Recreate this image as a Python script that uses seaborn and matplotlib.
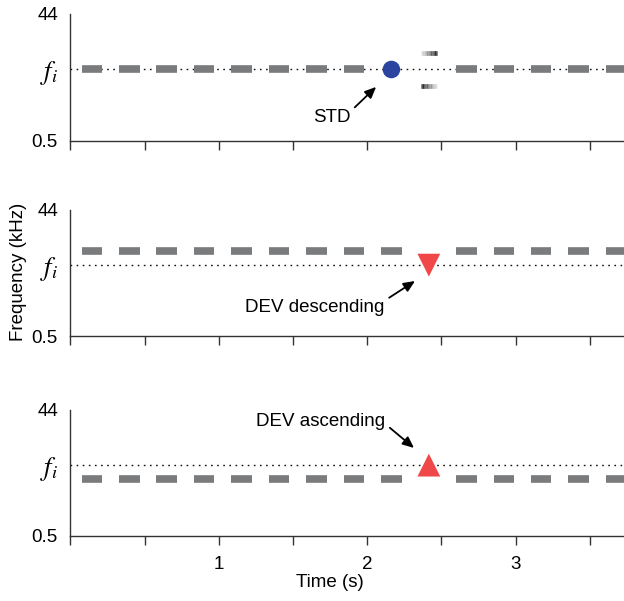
import numpy as np
import pandas as pd
import matplotlib
matplotlib.use("Agg")
import matplotlib.pyplot as plt
import seaborn as sns

# параметры стимулов (частоты в кГц, время в секундах)
f_i = 6.2
f_high = 10.3
f_low = 3.8
onset0 = 0.0755
period = 0.2523
tone_dur = 0.138
n_tones = 15
std_idx = 8
dev_idx = 9

# по одной записи на панель: STD, DEV descending, DEV ascending
tone_freq = [f_i, f_high, f_low]
skip_idx = [[std_idx, dev_idx], [dev_idx], [dev_idx]]
marker_idx = [std_idx, dev_idx, dev_idx]
marker_shape = ['o', 'v', '^']
marker_color = ['#2b44a0', '#f04848', '#f04848']
marker_size = [160, 270, 270]
labels = ['STD', 'DEV descending', 'DEV ascending']
arrow_tip = [(2.06, 3.36), (2.322, 3.53), (2.315, 11.4)]
text_offset = [(-32, -22), (-72, -19), (-67, 19)]
text_relpos = [(1.0, 0.85), (1.0, 0.9), (1.0, 0.35)]

# бледные тоны над и под паузой в панели STD
ghost_freq = [11.1, 3.5]
ghost_dir = [1, -1]  # 1 = темнеет вправо, -1 = темнеет влево

x_ticks = [0, 0.5, 1, 1.5, 2, 2.5, 3, 3.5]
x_ticklabels = ['', '', '1', '', '2', '', '3', '']
y_ticks = [0.5, f_i, 44]
y_ticklabels = ['0.5', '$f_i$', '44']

sns.set_style('ticks')
plt.rcParams['font.family'] = ['Liberation Sans', 'DejaVu Sans']
plt.rcParams['mathtext.fontset'] = 'stix'
plt.rcParams['text.color'] = 'black'
plt.rcParams['xtick.labelcolor'] = 'black'
plt.rcParams['ytick.labelcolor'] = 'black'

fig = plt.figure(figsize=(6.24, 6.01), dpi=100)
rects = [[0.1128, 0.7654, 0.8872, 0.2116],
         [0.1128, 0.4409, 0.8872, 0.2097],
         [0.1128, 0.1082, 0.8872, 0.2097]]

onsets = onset0 + period * np.arange(n_tones)

for p in range(3):
    ax = fig.add_axes(rects[p])
    ax.set_yscale('log')

    # опорная частота f_i
    ax.axhline(f_i, color='#111111', lw=1.0, ls=(0, (1.2, 3.2)), zorder=1)

    # тоны серии
    keep = [k for k in range(n_tones) if k not in skip_idx[p]]
    ax.hlines([tone_freq[p]] * len(keep), onsets[keep], onsets[keep] + tone_dur,
              color='#7a7b7d', lw=5.5, zorder=2)

    # стимул STD / DEV
    df = pd.DataFrame({'t': [onsets[marker_idx[p]] + tone_dur / 2], 'f': [f_i]})
    sns.scatterplot(data=df, x='t', y='f', marker=marker_shape[p],
                    color=marker_color[p], s=marker_size[p],
                    edgecolor='none', ax=ax, zorder=3, legend=False)

    if p == 0:
        g0 = onsets[dev_idx] + 0.015
        g1 = onsets[dev_idx] + tone_dur - 0.015
        edges = np.linspace(g0, g1, 13)
        for gf, gd in zip(ghost_freq, ghost_dir):
            shades = np.linspace(0.88, 0.1, 12)
            if gd < 0:
                shades = shades[::-1]
            for j in range(12):
                ax.hlines(gf, edges[j], edges[j + 1], color=str(shades[j]),
                          lw=3.4, zorder=2)

    ax.annotate(labels[p], xy=arrow_tip[p], xycoords='data',
                xytext=text_offset[p], textcoords='offset points',
                ha='center', va='center', fontsize=13.5, color='black',
                arrowprops=dict(arrowstyle='-|>,head_length=0.5,head_width=0.22',
                                color='black', lw=1.3, relpos=text_relpos[p],
                                shrinkA=1, shrinkB=0))

    ax.set_xlim(0, 3.73)
    ax.set_ylim(0.5, 44)
    ax.set_xticks(x_ticks)
    ax.set_xticklabels(x_ticklabels if p == 2 else [''] * len(x_ticks))
    ax.set_yticks(y_ticks)
    ax.yaxis.set_minor_locator(matplotlib.ticker.NullLocator())
    ax.set_yticklabels(y_ticklabels)
    ax.tick_params(axis='y', length=0, pad=9, labelsize=13.5)
    ax.tick_params(axis='x', length=6.3, width=1, color='#333333', pad=8,
                   labelsize=13.5, direction='out')
    for lab in ax.get_yticklabels():
        if lab.get_text() == '$f_i$':
            lab.set_fontsize(19)
    ax.set_xlabel('')
    ax.set_ylabel('')
    sns.despine(ax=ax)
    for s in ['left', 'bottom']:
        ax.spines[s].set_color('#333333')
        ax.spines[s].set_linewidth(1.0)
    if p == 2:
        ax.set_xlabel('Time (s)', fontsize=13.5, color='black')
        ax.xaxis.set_label_coords((330 - 70.4) / 553.6, -0.305)

fig.text(0.029, 0.547, 'Frequency (kHz)', rotation=90, ha='center', va='center',
         fontsize=13.5, color='black')

fig.savefig('out.png', dpi=100)
